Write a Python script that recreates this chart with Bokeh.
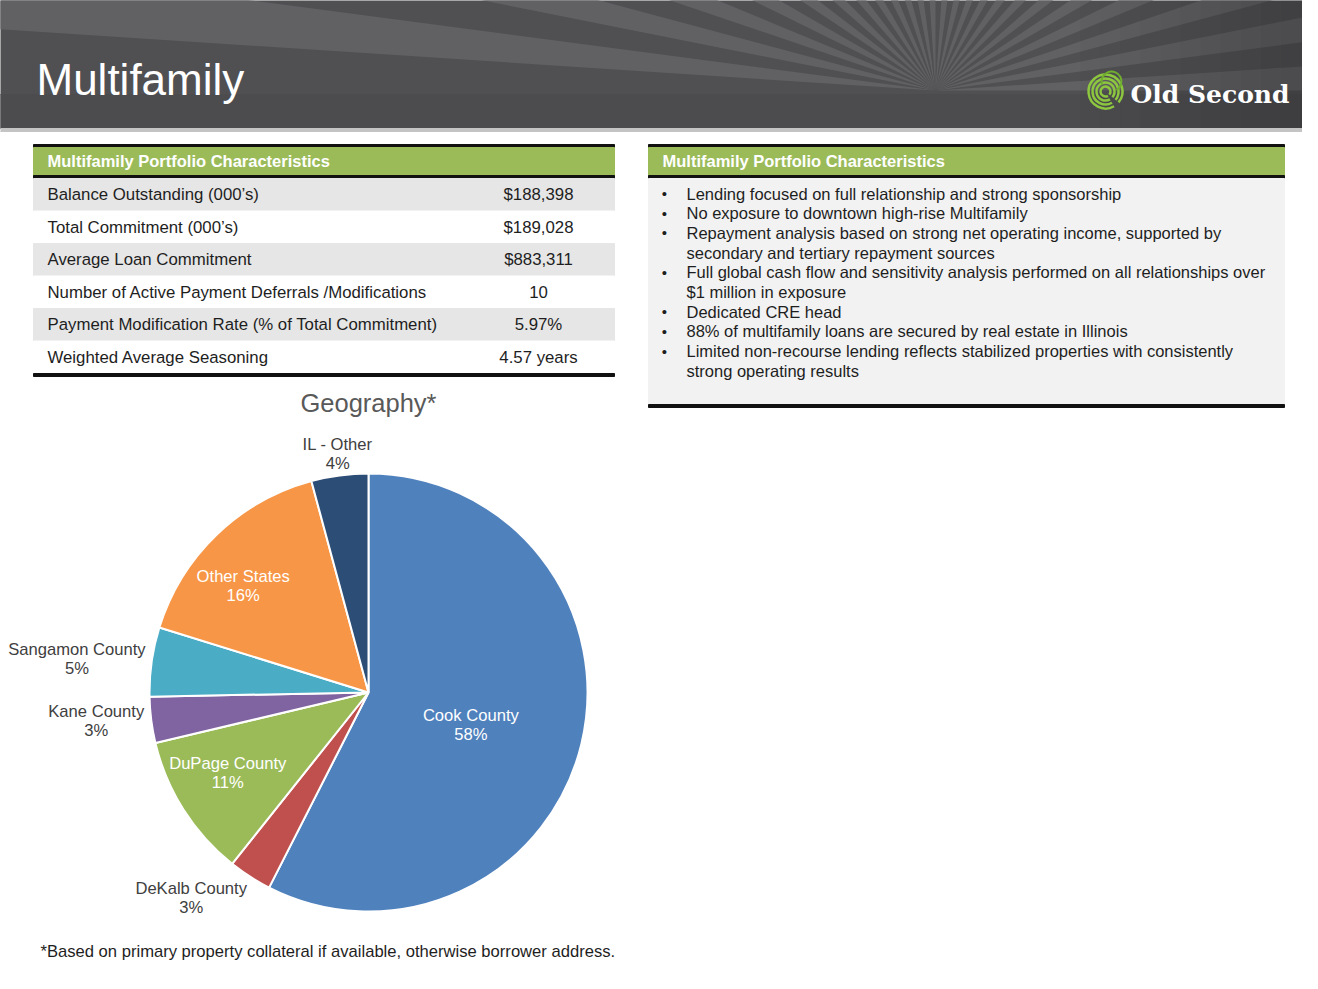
import math
from bokeh.plotting import figure
from bokeh.models import Range1d
from bokeh.embed import file_html
from bokeh.resources import INLINE
from bokeh.core.properties import value

# ---------------- data ----------------
slide_title = "Multifamily"
logo_text = "Old Second"
table_header = "Multifamily Portfolio Characteristics"
table_labels = [
    "Balance Outstanding (000\u2019s)",
    "Total Commitment (000\u2019s)",
    "Average  Loan Commitment",
    "Number of Active  Payment Deferrals /Modifications",
    "Payment Modification Rate (% of Total Commitment)",
    "Weighted Average  Seasoning",
]
table_values = ["$188,398", "$189,028", "$883,311", "10", "5.97%", "4.57 years"]

bullet_items = [
    ["Lending focused on full relationship and strong sponsorship"],
    ["No exposure to downtown high-rise Multifamily"],
    ["Repayment analysis based on strong net operating income, supported by",
     "secondary and tertiary  repayment sources"],
    ["Full  global cash flow and sensitivity analysis performed on all relationships over",
     "$1 million in exposure"],
    ["Dedicated CRE head"],
    ["88% of  multifamily loans are secured by real  estate in Illinois"],
    ["Limited non-recourse lending reflects stabilized properties with consistently",
     "strong operating results"],
]

chart_title = "Geography*"
geo_names = ["Cook County", "DeKalb County", "DuPage County", "Kane County",
             "Sangamon County", "Other States", "IL - Other"]
geo_values = [57.5, 3.2, 10.6, 3.4, 5.1, 16.0, 4.2]
geo_pct_labels = ["58%", "3%", "11%", "3%", "5%", "16%", "4%"]
footnote = "*Based on primary property collateral if available, otherwise borrower address."

# ---------------- styles / layout ----------------
geo_colors = ["#4F81BD", "#C0504D", "#9BBB59", "#8064A2", "#4BACC6", "#F79646", "#2C4D75"]
geo_label_inside = [True, False, True, False, False, True, False]
geo_label_radius = [0.49, 1.24, 0.74, 1.25, 1.34, 0.75, 1.10]
geo_label_nudge = [4.0, 8.0, 2.7, 1.2, -1.6, -5.8, 0.2]

H = 989
def Y(py):
    return H - py

FONT = value("Liberation Sans")
GREEN = "#9BBB59"
TXT = "#1e1e1e"

p = figure(width=1302, height=973, x_range=Range1d(0, 1302), y_range=Range1d(H - 973, H),
           output_backend="svg", toolbar_location=None, min_border=0,
           x_axis_location=None, y_axis_location=None,
           outline_line_color=None, background_fill_color="white",
           border_fill_color="white")
p.grid.grid_line_color = None

# ---------------- header ----------------
p.quad(left=-10, right=1330, top=Y(-20), bottom=Y(128), color="#505053")
rcx, rcy = 935, 90
n_rays = 24
step = math.pi / n_rays
starts = [i * step for i in range(n_rays)]
ends = [s + step * 0.5 for s in starts]
p.wedge(x=rcx, y=Y(rcy), radius=1600, start_angle=starts, end_angle=ends,
        color="#616164", line_color=None)
# flat band below the horizon
p.quad(left=-10, right=1330, top=Y(rcy + 4), bottom=Y(128), color="#4c4c4f")
# gradual darkening toward the right edge
n_sh = 12
sh_l = [1080 + i * 20 for i in range(n_sh)]
sh_r = [v + 20 for v in sh_l]
sh_a = [0.03 * (i + 1) for i in range(n_sh)]
p.quad(left=sh_l, right=sh_r, top=Y(-20), bottom=Y(128), fill_color="#202022",
       fill_alpha=sh_a, line_color=None)
p.quad(left=-10, right=1330, top=Y(128), bottom=Y(131), color="#c4c4c4")

p.text(x=[36], y=[Y(79)], text=[slide_title], text_font=FONT, text_font_size="44px",
       text_color="white", text_baseline="middle", text_align="left")

# logo
lx, ly = 1105, 91
for r in [5, 9, 13, 17]:
    p.arc(x=lx, y=Y(ly), radius=r, start_angle=math.radians(-40), end_angle=math.radians(300),
          line_color="#8dc63f", line_width=2.5)
p.arc(x=lx + 6, y=Y(ly - 10), radius=10, start_angle=math.radians(-60), end_angle=math.radians(200),
      line_color="#6fae2e", line_width=2)
p.text(x=[1130], y=[Y(94)], text=[logo_text], text_font=value("DejaVu Serif"),
       text_font_style="bold", text_font_size="25px", text_color="white",
       text_baseline="middle", text_align="left")

# ---------------- left table ----------------
L1, R1 = 33, 614
def box_header(left, right):
    p.quad(left=left, right=right, top=Y(144), bottom=Y(147), color="#111111")
    p.quad(left=left, right=right, top=Y(147), bottom=Y(175), color=GREEN)
    p.quad(left=left, right=right, top=Y(175), bottom=Y(178), color="#111111")
    p.text(x=[left + 14], y=[Y(160.5)], text=[table_header], text_font=FONT,
           text_font_style="bold", text_font_size="16.5px", text_color="white",
           text_baseline="middle", text_align="left")

box_header(L1, R1)
row_top0, row_h = 178, 32.5
n_rows = len(table_labels)
tops = [Y(row_top0 + i * row_h) for i in range(n_rows)]
bots = [Y(row_top0 + (i + 1) * row_h) for i in range(n_rows)]
fills = ["#E6E6E6" if i % 2 == 0 else "#FFFFFF" for i in range(n_rows)]
p.quad(left=L1, right=R1, top=tops, bottom=bots, color=fills)
mids = [Y(row_top0 + (i + 0.5) * row_h) for i in range(n_rows)]
p.text(x=[47] * n_rows, y=mids, text=table_labels, text_font=FONT, text_font_size="16.8px",
       text_color=TXT, text_baseline="middle", text_align="left")
p.text(x=[538] * n_rows, y=mids, text=table_values, text_font=FONT, text_font_size="16.8px",
       text_color=TXT, text_baseline="middle", text_align="center")
bt = row_top0 + n_rows * row_h
p.quad(left=L1, right=R1, top=Y(bt), bottom=Y(bt + 3), color="#111111")

# ---------------- right box ----------------
L2, R2 = 648, 1284
box_header(L2, R2)
p.quad(left=L2, right=R2, top=Y(178), bottom=Y(404), color="#F2F2F2")
p.quad(left=L2, right=R2, top=Y(404), bottom=Y(407), color="#111111")
line_y0, line_h = 193, 19.7
bx, by, tx, ty, tt = [], [], [], [], []
k = 0
for item in bullet_items:
    bx.append(664); by.append(Y(line_y0 + k * line_h))
    for ln in item:
        tx.append(686); ty.append(Y(line_y0 + k * line_h)); tt.append(ln)
        k += 1
p.text(x=bx, y=by, text=["\u2022"] * len(bx), text_font=FONT, text_font_size="15px",
       text_color=TXT, text_baseline="middle", text_align="center")
p.text(x=tx, y=ty, text=tt, text_font=FONT, text_font_size="16.5px",
       text_color=TXT, text_baseline="middle", text_align="left")

# ---------------- pie ----------------
cx, cy, R = 368, 692, 219
p.text(x=[cx], y=[Y(402)], text=[chart_title], text_font=FONT, text_font_size="25.5px",
       text_color="#595959", text_baseline="middle", text_align="center")
total = sum(geo_values)
cum = 0.0
sa, ea, mid_deg = [], [], []
for v in geo_values:
    f0 = cum / total
    cum += v
    f1 = cum / total
    sa.append(math.pi / 2 - 2 * math.pi * f0)
    ea.append(math.pi / 2 - 2 * math.pi * f1)
    mid_deg.append(360 * (f0 + f1) / 2)
p.wedge(x=cx, y=Y(cy), radius=R, start_angle=sa, end_angle=ea, direction="clock",
        fill_color=geo_colors, line_color="white", line_width=2)

nx, ny, nt, nc = [], [], [], []
for i, name in enumerate(geo_names):
    th = math.radians(mid_deg[i] + geo_label_nudge[i])
    rr = geo_label_radius[i] * R
    x = cx + rr * math.sin(th)
    yp = cy - rr * math.cos(th)
    col = "white" if geo_label_inside[i] else "#404040"
    nx += [x, x]; ny += [Y(yp - 9.5), Y(yp + 9.5)]
    nt += [name, geo_pct_labels[i]]; nc += [col, col]
p.text(x=nx, y=ny, text=nt, text_color=nc, text_font=FONT, text_font_size="16.6px",
       text_baseline="middle", text_align="center")

p.text(x=[40], y=[Y(951)], text=[footnote], text_font=FONT, text_font_size="16.6px",
       text_color=TXT, text_baseline="middle", text_align="left")

open("out.html", "w").write(file_html(p, INLINE))
